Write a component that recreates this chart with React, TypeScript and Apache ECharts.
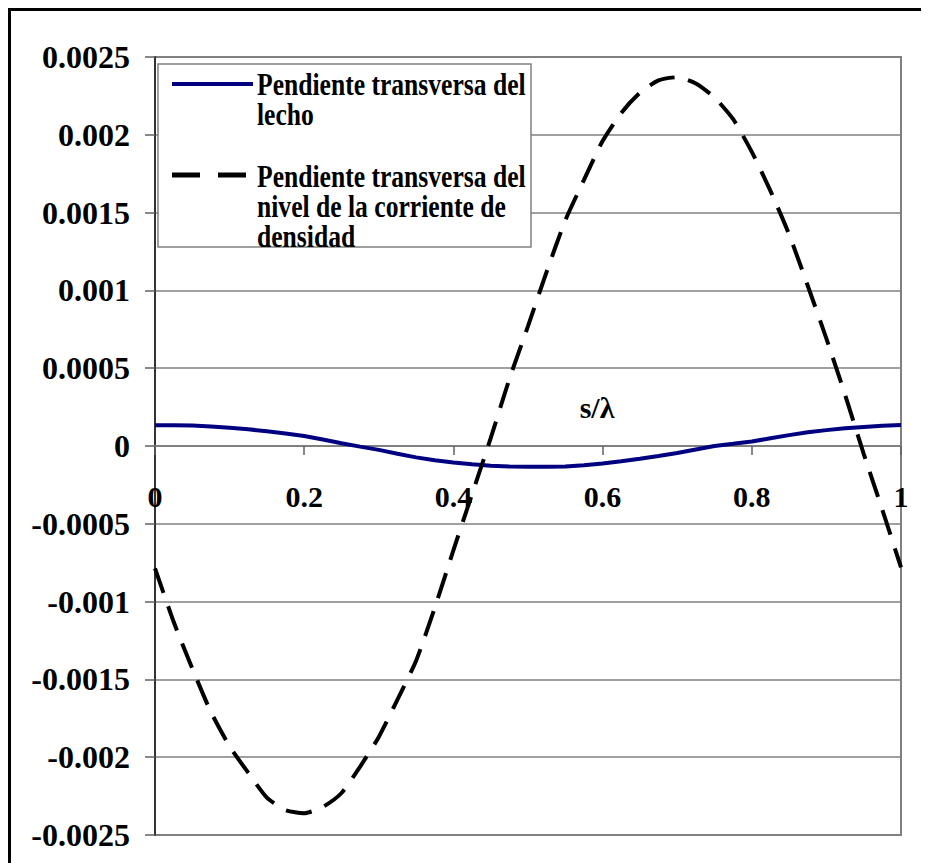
import React, { useEffect, useRef } from "react";
import * as echarts from "echarts";

const sValues = [
  0, 0.025, 0.05, 0.075, 0.1, 0.125, 0.15, 0.175, 0.2, 0.225, 0.25, 0.275, 0.3, 0.325, 0.35, 0.375, 0.4,
  0.425, 0.45, 0.475, 0.5, 0.525, 0.55, 0.575, 0.6, 0.625, 0.65, 0.675, 0.7, 0.725, 0.75, 0.775, 0.8,
  0.825, 0.85, 0.875, 0.9, 0.925, 0.95, 0.975, 1,
];

const bedSlope = [
  0.000134, 0.000134, 0.000131, 0.000125, 0.000117, 0.000107, 0.000095, 0.000081, 0.000064, 0.000042,
  0.000018, -0.000004, -0.000025, -0.00005, -0.000073, -0.000092, -0.000106, -0.000118, -0.000127,
  -0.000132, -0.000134, -0.000134, -0.000132, -0.000124, -0.000112, -0.000098, -0.000082, -0.000064,
  -0.000045, -0.000022, 0.0, 0.000014, 0.000029, 0.00005, 0.00007, 0.000088, 0.000102, 0.000114,
  0.000122, 0.00013, 0.000135,
];

const levelSlope = [
  -0.000786, -0.00113, -0.00143, -0.00171, -0.00193, -0.0021, -0.00226, -0.00234, -0.00236, -0.00232,
  -0.00223, -0.00206, -0.00187, -0.00163, -0.00138, -0.00104, -0.00067, -0.00031, 0.00005, 0.00043,
  0.00077, 0.00112, 0.00145, 0.00171, 0.00196, 0.00214, 0.00227, 0.00235, 0.00237, 0.00233, 0.00224,
  0.0021, 0.00189, 0.00164, 0.00136, 0.00103, 0.00069, 0.00033, -0.00005, -0.00041, -0.00078,
];

const xTicks = { min: 0, max: 1, interval: 0.2 };
const yTicks = { min: -0.0025, max: 0.0025, interval: 0.0005 };

const seriesNames = [
  "Pendiente transversa del\nlecho",
  "Pendiente transversa del\nnivel de la corriente de\ndensidad",
];
const axisTitle = "s/λ";

const FONT = '"Liberation Serif", "Times New Roman", Times, serif';

const GRID_TOP = 49;
const GRID_BOTTOM = 28;
const CHART_H = 855;

export default function App() {
  const ref = useRef<HTMLDivElement>(null);

  useEffect(() => {
    if (!ref.current) return;
    const chart = echarts.init(ref.current, undefined, { renderer: "svg" });
    const bedData = sValues.map((s, i) => [s, bedSlope[i]]);
    const levelData = sValues.map((s, i) => [s, levelSlope[i]]);

    const plotH = CHART_H - GRID_TOP - GRID_BOTTOM;
    const zeroFromBottom = (plotH * (0 - yTicks.min)) / (yTicks.max - yTicks.min);

    const labelStyle = {
      color: "#000",
      fontFamily: FONT,
      fontWeight: "bold",
    };

    chart.setOption({
      animation: false,
      backgroundColor: "#ffffff",
      grid: {
        left: 147,
        top: GRID_TOP,
        right: 28,
        bottom: GRID_BOTTOM,
        show: true,
        borderColor: "#808080",
        borderWidth: 2,
        backgroundColor: "transparent",
        containLabel: false,
        outerBoundsMode: "none",
      },
      xAxis: [
        {
          type: "value",
          min: xTicks.min,
          max: xTicks.max,
          interval: xTicks.interval,
          axisLine: { show: true, onZero: true, lineStyle: { color: "#808080", width: 2 } },
          axisTick: { show: true, inside: false, length: 9, lineStyle: { color: "#606060", width: 1.5 } },
          splitLine: { show: false },
          axisLabel: { show: false },
        },
        {
          type: "value",
          position: "bottom",
          offset: -zeroFromBottom,
          min: xTicks.min,
          max: xTicks.max,
          interval: xTicks.interval,
          axisLine: { show: false, onZero: false },
          axisTick: { show: false },
          splitLine: { show: false },
          axisLabel: {
            ...labelStyle,
            margin: 50,
            verticalAlign: "middle",
            fontSize: 30,
            formatter: (v: number) => String(+v.toFixed(2)),
          },
        },
      ],
      yAxis: {
        type: "value",
        min: yTicks.min,
        max: yTicks.max,
        interval: yTicks.interval,
        axisLine: { show: true, onZero: false, lineStyle: { color: "#333333", width: 2 } },
        axisTick: { show: true, length: 10, lineStyle: { color: "#606060", width: 1.5 } },
        splitLine: { show: true, lineStyle: { color: "#808080", width: 1.5 } },
        axisLabel: {
          ...labelStyle,
          margin: 25,
          fontSize: 32,
          formatter: (v: number) => String(+v.toFixed(4)),
        },
      },
      series: [
        {
          name: seriesNames[0],
          type: "line",
          xAxisIndex: 0,
          data: bedData,
          showSymbol: false,
          symbol: "none",
          lineStyle: { color: "#000080", width: 4 },
          itemStyle: { color: "#000080" },
          z: 3,
        },
        {
          name: seriesNames[1],
          type: "line",
          xAxisIndex: 0,
          data: levelData,
          showSymbol: false,
          symbol: "none",
          smooth: 0.2,
          lineStyle: { color: "#000000", width: 4, type: [26, 14] },
          itemStyle: { color: "#000000" },
          z: 4,
        },
      ],
      graphic: [
        {
          type: "line",
          z: 50,
          shape: { x1: 0, y1: 1.5, x2: 921, y2: 1.5 },
          style: { stroke: "#000", lineWidth: 3 },
        },
        {
          type: "line",
          z: 50,
          shape: { x1: 1.5, y1: 0, x2: 1.5, y2: 855 },
          style: { stroke: "#000", lineWidth: 3 },
        },
        {
          type: "text",
          z: 50,
          x: 589,
          y: 399,
          style: {
            text: axisTitle,
            fontFamily: FONT,
            fontWeight: "bold",
            fontSize: 30,
            fill: "#000",
            textAlign: "center",
            verticalAlign: "middle",
          },
        },
        {
          type: "group",
          z: 60,
          children: [
            {
              type: "rect",
              z: 60,
              shape: { x: 150, y: 56, width: 373, height: 183 },
              style: { fill: "#ffffff", stroke: "#808080", lineWidth: 1.5 },
            },
            {
              type: "line",
              z: 61,
              shape: { x1: 164, y1: 76, x2: 245, y2: 76 },
              style: { stroke: "#000080", lineWidth: 4 },
            },
            {
              type: "line",
              z: 61,
              shape: { x1: 164, y1: 167, x2: 239, y2: 167 },
              style: { stroke: "#000000", lineWidth: 5, lineDash: [28, 18] },
            },
            {
              type: "text",
              z: 61,
              x: 249,
              y: 61,
              scaleX: 0.8,
              style: {
                text: seriesNames[0],
                fontFamily: FONT,
                fontWeight: "bold",
                fontSize: 32,
                lineHeight: 30,
                fill: "#000",
                textAlign: "left",
                verticalAlign: "top",
              },
            },
            {
              type: "text",
              z: 61,
              x: 249,
              y: 153,
              scaleX: 0.8,
              style: {
                text: seriesNames[1],
                fontFamily: FONT,
                fontWeight: "bold",
                fontSize: 32,
                lineHeight: 30,
                fill: "#000",
                textAlign: "left",
                verticalAlign: "top",
              },
            },
          ],
        },
      ],
    });

    return () => chart.dispose();
  }, []);

  return <div ref={ref} style={{ width: 921, height: 855 }} />;
}
